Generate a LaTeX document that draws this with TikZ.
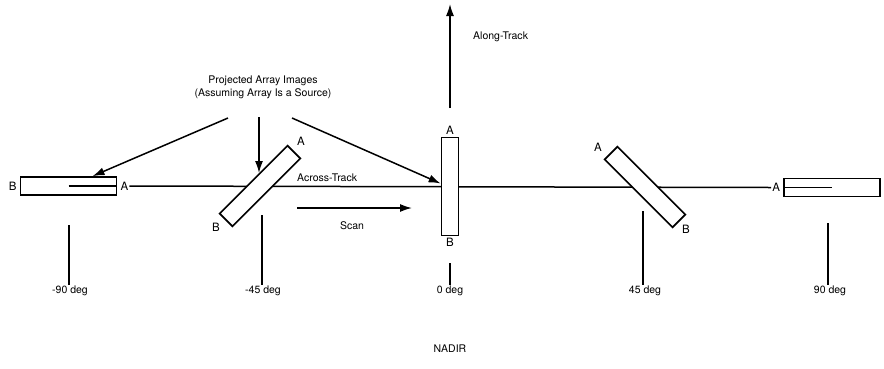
\documentclass[tikz,border=0pt]{standalone}
\usepackage{fontspec}
\setmainfont{TeX Gyre Heros}
\usetikzlibrary{arrows.meta, positioning, backgrounds}

\begin{document}
\begin{tikzpicture}[x=1pt, y=-1pt,
    array/.style={draw, fill=white, line width=1.7pt, minimum width=96pt, minimum height=18pt, inner sep=0pt},
    tag/.style={font=\fontsize{11.5}{12}\selectfont, inner sep=1pt},
    txt/.style={font=\fontsize{10.5}{13}\selectfont, align=center, inner sep=1pt},
    line/.style={line width=1.5pt},
    arr/.style={line width=1.5pt, -{Latex[length=12pt, width=8pt]}}
]
\useasboundingbox (0,0) rectangle (884,368);

% Array images
\node[array] (m90) at (68.5,186) {};
\node[tag, left=2pt of m90] (m90b) {B};
\node[tag, right=2pt of m90] (m90a) {A};
\draw[line] (m90.center) -- (m90.east);

\node[array, rotate=45] (m45) at (260,186) {};
\node[tag] (m45a) at (301,141) {A};
\node[tag] (m45b) at (216,227) {B};

\node[array, minimum width=17pt, minimum height=98pt] (z0) at (450,186.5) {};
\node[tag, above=1pt of z0] (z0a) {A};
\node[tag, below=1pt of z0] (z0b) {B};

\node[array, rotate=-45] (p45) at (645,187) {};
\node[tag] (p45a) at (598,147) {A};
\node[tag] (p45b) at (686,229) {B};

\node[array] (p90) at (832,187.5) {};
\node[tag, left=2pt of p90] (p90a) {A};
\draw[line] (p90.west) -- (p90.center);

% Across-track line
\begin{scope}[on background layer]
\draw[line] (m90a.east) -- (p90a.west);
\end{scope}
\node[txt, anchor=south west] (across) at (296,183) {Across-Track};

% Along-track
\coordinate (atbase) at (450,108);
\coordinate (attip) at (450,4);
\draw[arr] (atbase) -- (attip);
\node[txt, anchor=west] (along) at (472,37) {Along-Track};

% Scan
\coordinate (scan0) at (297,208);
\coordinate (scan1) at (412,208);
\draw[arr] (scan0) -- (scan1);
\node[txt] (scan) at (352,226) {Scan};

% Projected images
\node[txt] (proj) at (263,87) {Projected Array Images\\(Assuming Array Is a Source)};
\coordinate (pr1) at (228,118);
\coordinate (pr2) at (259,117);
\coordinate (pr3) at (292,118);
\draw[arr] (pr1) -- ([xshift=24pt]m90.north);
\draw[arr, shorten >=6pt] (pr2) -- (pr2 |- m45.north);
\draw[arr] (pr3) -- ([yshift=3pt]z0.west);

% Nadir angles
\node[txt] (d1) at (70,291) {-90 deg};
\node[txt] (d2) at (263,291) {-45 deg};
\node[txt] (d3) at (450,291) {0 deg};
\node[txt] (d4) at (645,291) {45 deg};
\node[txt] (d5) at (830,291) {90 deg};
\coordinate (t1) at (69,225);
\coordinate (t2) at (262,215);
\coordinate (t3) at (450,263);
\coordinate (t4) at (643,211);
\coordinate (t5) at (828,223);
\foreach \i in {1,...,5}
  \draw[line] (t\i) -- (t\i |- d\i.north);
\node[txt] (nadir) at (450,349) {NADIR};
\end{tikzpicture}
\end{document}
